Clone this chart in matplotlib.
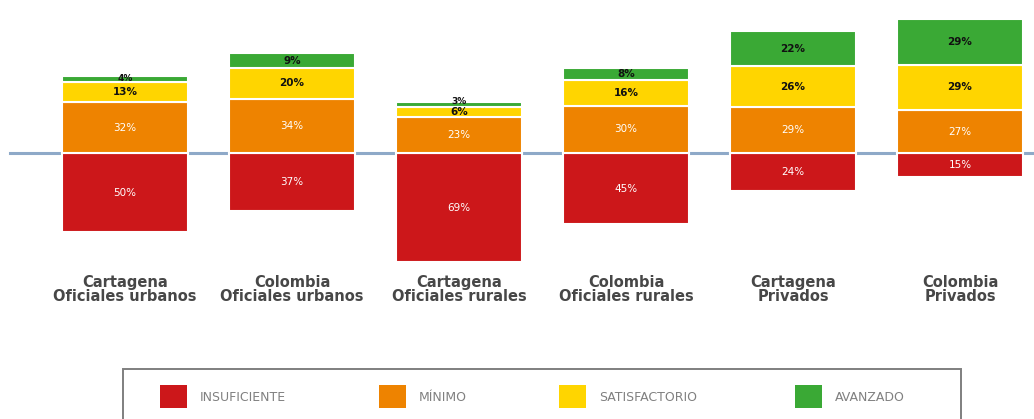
import numpy as np
import matplotlib
matplotlib.use("Agg")
import matplotlib.pyplot as plt
from matplotlib.patches import Rectangle
from matplotlib.transforms import blended_transform_factory

# data
categorias = ["Cartagena\nOficiales urbanos", "Colombia\nOficiales urbanos",
              "Cartagena\nOficiales rurales", "Colombia\nOficiales rurales",
              "Cartagena\nPrivados", "Colombia\nPrivados"]
insuficiente = [50, 37, 69, 45, 24, 15]
minimo = [32, 34, 23, 30, 29, 27]
satisfactorio = [13, 20, 6, 16, 26, 29]
avanzado = [4, 9, 3, 8, 22, 29]

niveles = ["INSUFICIENTE", "MÍNIMO", "SATISFACTORIO", "AVANZADO"]
colores = ["#CC171A", "#EE8300", "#FFD500", "#3AA935"]
color_texto = ["white", "white", "#111111", "#111111"]

W, H = 1034, 419
fig = plt.figure(figsize=(W / 100, H / 100), dpi=100)

# axes placed in pixel terms: top at 0, bottom at 270
ax = fig.add_axes([0, 1 - 270 / H, 1, 270 / H])
ppc = 1.58  # pixels per percent
ax.set_ylim(-(270 - 153) / ppc, 153 / ppc)
ax.set_xlim(-125 / 167, (W - 125) / 167)
ax.axis("off")

x = np.arange(len(categorias))
bw = 0.75

ax.axhline(0, xmin=10 / W, xmax=1, color="#8EA9C8", lw=2.2, zorder=1)

series = [insuficiente, minimo, satisfactorio, avanzado]
bottom_pos = np.zeros(len(x))
prev = None
for i, (vals, col, tcol) in enumerate(zip(series, colores, color_texto)):
    vals = np.array(vals, dtype=float)
    if i == 0:
        bottoms = -vals
    else:
        bottoms = bottom_pos.copy()
        bottom_pos += vals
    ax.bar(x, vals, bw, bottom=bottoms, color=col, edgecolor="white",
           linewidth=1.5, zorder=2)
    for j, (xi, b, v) in enumerate(zip(x, bottoms, vals)):
        ypos, va = b + v / 2, "center"
        # tiny segment sitting on another thin one: lift the label
        if i == 3 and v < 5 and prev[j] < 10:
            ypos, va = b + v * 0.3, "bottom"
        ax.text(xi, ypos, "%d%%" % v, ha="center", va=va,
                fontsize=6.5 if v < 5 else 7.5, color=tcol,
                fontweight="bold" if i >= 2 else "normal", zorder=3)
    prev = vals

trans = blended_transform_factory(ax.transData, fig.transFigure)
for xi, cat in zip(x, categorias):
    ax.text(xi, 1 - 275 / H, cat, transform=trans, ha="center", va="top",
            fontsize=10.5, color="#474747", linespacing=0.9,
            fontweight="bold")

# legend box running off the bottom edge
fig.patches.append(Rectangle((123 / W, -0.05), (961 - 123) / W,
                             0.05 + (H - 369) / H, transform=fig.transFigure,
                             facecolor="white", edgecolor="#7f7f7f", lw=1.4))
leg_x = [160, 379, 559, 795]
for lx, nombre, col in zip(leg_x, niveles, colores):
    fig.patches.append(Rectangle((lx / W, 1 - 408 / H), 27 / W, 23 / H,
                                 transform=fig.transFigure, facecolor=col,
                                 edgecolor="none"))
    fig.text((lx + 40) / W, 1 - 397 / H, nombre, ha="left", va="center",
             fontsize=9, color="#808080")

fig.savefig("out.png", dpi=100, facecolor="white")
